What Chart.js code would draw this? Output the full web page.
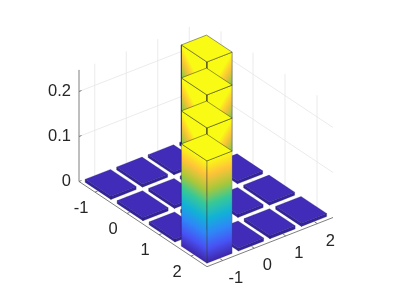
<!DOCTYPE html>
<html>
<head>
<meta charset="utf-8">
<style>html,body{margin:0;padding:0;background:#fff}canvas{display:block}</style>
<script src="https://cdn.jsdelivr.net/npm/chart.js@4/dist/chart.umd.min.js"></script>
</head>
<body>
<canvas id="c" width="399" height="299"></canvas>
<script>
// ---- data ----
const xTicks = [-1, 0, 1, 2];
const yTicks = [-1, 0, 1, 2];
const zTicks = [0, 0.1, 0.2];
const zMax = 0.248;
// bar stack heights, row = x tick, column = y tick
const row0 = [[0.007], [0.007], [0.007], [0.007]];
const row1 = [[0.007], [0.007], [0.007], [0.007]];
const row2 = [[0.007], [0.007], [0.007], [0.007]];
const row3 = [[0.2276, 0.0733, 0.0733, 0.0733], [0.007], [0.007], [0.007]];
const rows = [row0, row1, row2, row3];
const barWidth = 0.8;

// ---- view (orthographic 3-D projection onto the chart plane) ----
const U = [32, -21.3 / 450], V = [31.5, 12.3 / 450];
const project = (u, v, z) => ({x: u * U[0] + v * V[0], y: z + u * U[1] + v * V[1]});
const n = xTicks.length;
const planeLow = (181.5 - 281.1) / 450, planeHigh = (181.5 - 17.9) / 450;

const parulaStops = [[62,38,168],[72,82,244],[46,135,247],[18,177,214],[55,200,151],[171,199,57],[254,195,56],[249,251,21]];
function parula(t) {
  const s = Math.max(0, Math.min(1, t)) * (parulaStops.length - 1);
  const i = Math.min(parulaStops.length - 2, Math.floor(s)), f = s - i;
  const a = parulaStops[i], b = parulaStops[i + 1];
  return `rgb(${a.map((c, k) => Math.round(c + (b[k] - c) * f)).join(',')})`;
}
const EDGE = 'rgba(35,35,30,0.58)';
const LOW_TOP = 'rgb(64,44,185)', LOW_SIDE = 'rgb(52,36,156)';

function px(chart, p) {
  return {x: chart.scales.x.getPixelForValue(p.x), y: chart.scales.y.getPixelForValue(p.y)};
}
// linear gradient whose isolines follow a face's base edge
function edgeGradient(context) {
  const chart = context.chart, d = context.dataset;
  if (!chart.chartArea) return 'transparent';
  const A = px(chart, d.pts[0]), E = px(chart, d.pts[1]), T = px(chart, d.pts[3]);
  const ex = E.x - A.x, ey = E.y - A.y, L2 = ex * ex + ey * ey;
  const tx = T.x - A.x, ty = T.y - A.y, k = (tx * ex + ty * ey) / L2;
  const g = chart.ctx.createLinearGradient(A.x, A.y, A.x + tx - k * ex, A.y + ty - k * ey);
  for (let i = 0; i <= 14; i++) g.addColorStop(i / 14, parula(i / 14));
  return g;
}
// upper-stack faces: low corner shading up to the diagonal
function cornerGradient(context) {
  const chart = context.chart, d = context.dataset;
  if (!chart.chartArea) return 'transparent';
  const C = px(chart, d.pts[d.corner]), D1 = px(chart, d.pts[(d.corner + 1) % 4]), D2 = px(chart, d.pts[(d.corner + 3) % 4]);
  const ex = D2.x - D1.x, ey = D2.y - D1.y, L2 = ex * ex + ey * ey;
  const k = ((C.x - D1.x) * ex + (C.y - D1.y) * ey) / L2;
  const g = chart.ctx.createLinearGradient(C.x, C.y, D1.x + k * ex, D1.y + k * ey);
  for (let i = 0; i <= 6; i++) g.addColorStop(i / 6, parula(0.64 + 0.36 * i / 6));
  return g;
}

const sets = [];
function line(a, b, color, width) {
  sets.push({data: [a, b], borderColor: color, borderWidth: width, fill: false});
}
function poly(pts, fill, extra) {
  sets.push(Object.assign({
    pts, data: pts.concat([pts[0]]),
    fill: 'shape', backgroundColor: fill, borderColor: EDGE, borderWidth: 0.8
  }, extra || {}));
}

// walls and floor grid
const GRID = '#e6e6e6';
zTicks.slice(1).forEach(z => {
  line(project(0, 0, z), project(0, n, z), GRID, 0.8);
  line(project(0, n, z), project(n, n, z), GRID, 0.8);
});
xTicks.forEach((_, i) => {
  line(project(i + .5, n, 0), project(i + .5, n, zMax), GRID, 0.8);
  line(project(i + .5, 0, 0), project(i + .5, n, 0), GRID, 0.8);
});
yTicks.forEach((_, j) => {
  line(project(0, j + .5, 0), project(0, j + .5, zMax), GRID, 0.8);
  line(project(0, j + .5, 0), project(n, j + .5, 0), GRID, 0.8);
});

// axes
const AXIS = '#6f6f6f';
line(project(0, 0, 0), project(0, 0, zMax), AXIS, 0.9);
line(project(0, 0, 0), project(n, 0, 0), AXIS, 0.9);
line(project(n, 0, 0), project(n, n, 0), AXIS, 0.9);
zTicks.forEach(z => line(project(0, 0, z), project(0, .08, z), AXIS, 0.9));
xTicks.forEach((_, i) => line(project(i + .5, 0, 0), project(i + .5, .08, 0), AXIS, 0.9));
yTicks.forEach((_, j) => line(project(n, j + .5, 0), project(n - .08, j + .5, 0), AXIS, 0.9));

// bars, painted back to front; a stack is painted from its top section down,
// so every lower section's lid stays visible over the section above it
const cells = [];
rows.forEach((r, i) => r.forEach((stack, j) => cells.push({i, j, stack})));
cells.sort((a, b) => (a.i - a.j) - (b.i - b.j));
const gap = (1 - barWidth) / 2;
cells.forEach(({i, j, stack}) => {
  const u0 = i + gap, u1 = i + 1 - gap, v0 = j + gap, v1 = j + 1 - gap;
  const single = stack.length === 1;
  let top = stack.reduce((a, b) => a + b, 0);
  for (let s = stack.length - 1; s >= 0; s--) {
    const base = top - stack[s];
    const left = [project(u0, v0, base), project(u1, v0, base), project(u1, v0, top), project(u0, v0, top)];
    const right = [project(u1, v0, base), project(u1, v1, base), project(u1, v1, top), project(u1, v0, top)];
    if (single) {
      const soft = {borderColor: 'rgba(30,25,90,0.32)'};
      poly(left, LOW_SIDE, soft); poly(right, LOW_SIDE, soft);
    } else if (s === 0) {
      poly(left, edgeGradient, {borderColor: 'rgba(40,40,40,0.2)'});
      poly(right, edgeGradient, {borderColor: 'rgba(40,40,40,0.2)'});
    } else {
      poly(left, cornerGradient, {corner: 0});
      poly(right, cornerGradient, {corner: 1});
    }
    poly([project(u0, v0, top), project(u1, v0, top), project(u1, v1, top), project(u0, v1, top)],
      single ? LOW_TOP : parula(1), single ? {borderColor: 'rgba(30,25,90,0.32)'} : null);
    top = base;
  }
});

sets.forEach((d, k) => { d.order = sets.length - k; d.pointRadius = 0; d.tension = 0; d.clip = false; });

// tick labels of the two floor axes, placed through the same projection and scales
const floorLabels = {
  id: 'floorLabels',
  afterDatasetsDraw(chart) {
    const ctx = chart.ctx;
    ctx.save();
    ctx.font = '16.5px "Liberation Sans", Arial, sans-serif';
    ctx.fillStyle = '#262626';
    ctx.textAlign = 'center';
    ctx.textBaseline = 'middle';
    xTicks.forEach((t, i) => {
      const p = px(chart, project(i + .5, 0, 0));
      ctx.fillText(String(t), p.x - 14, p.y + 16);
    });
    yTicks.forEach((t, j) => {
      const p = px(chart, project(n, j + .5, 0));
      ctx.fillText(String(t), p.x + 13, p.y + 17.5);
    });
    ctx.restore();
  }
};

new Chart(document.getElementById('c'), {
  type: 'line',
  data: {datasets: sets},
  plugins: [floorLabels],
  options: {
    responsive: false,
    animation: false,
    events: [],
    parsing: false,
    normalized: false,
    plugins: {legend: {display: false}, tooltip: {enabled: false}, title: {display: false}},
    layout: {padding: 0, autoPadding: false},
    scales: {
      x: {type: 'linear', min: 0, max: 320, display: false},
      y: {
        type: 'linear', min: planeLow, max: planeHigh, bounds: 'data',
        afterBuildTicks: s => { s.min = planeLow; s.max = planeHigh; s.ticks = zTicks.map(value => ({value})); },
        afterFit: s => { s.width = 79; },
        grid: {display: false, drawTicks: false},
        border: {display: false},
        ticks: {
          autoSkip: false, padding: 8, color: '#262626',
          font: {family: '"Liberation Sans", Arial, sans-serif', size: 16.5},
          callback: v => String(v)
        }
      }
    }
  }
});
</script>
</body>
</html>
